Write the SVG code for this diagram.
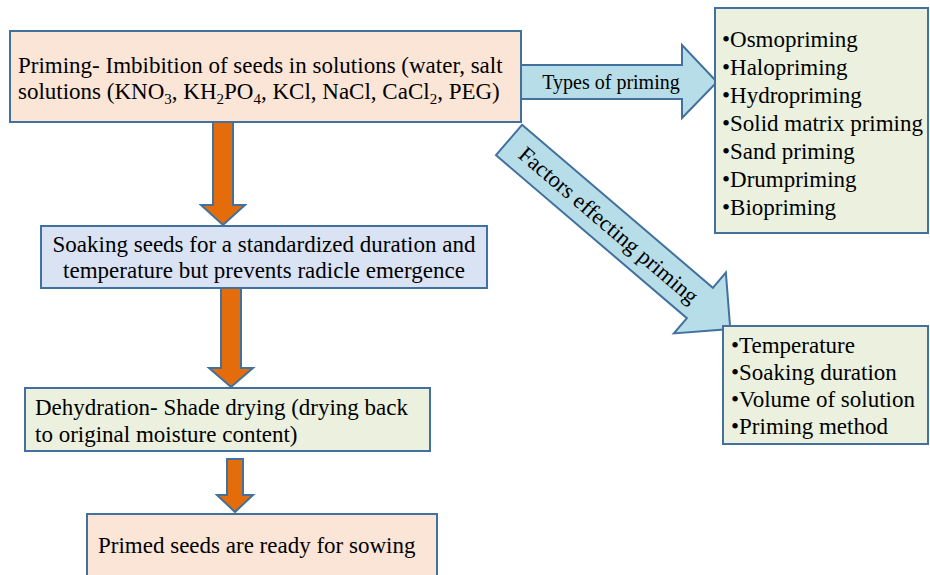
<svg xmlns="http://www.w3.org/2000/svg" width="930" height="575" viewBox="0 0 930 575">
<style>
  .box { stroke: #41719c; stroke-width: 2; }
  .peach { fill: #fbe5d6; }
  .blue { fill: #dae3f3; }
  .green { fill: #ebf1de; }
  .down { fill: #e46c0a; stroke: #41719c; stroke-width: 2; }
  .side { fill: #b7dde8; stroke: #41719c; stroke-width: 2; }
</style>
<rect width="930" height="575" fill="#ffffff"/>
<g font-family="'Liberation Serif', 'Times New Roman', serif" fill="#000">
<g id="connectors">
  <polygon class="down" points="213,121 233,121 233,205 245,205 223,225 201,205 213,205"/>
  <polygon class="down" points="221,288 241,288 241,368 253,368 231,387 209,368 221,368"/>
  <polygon class="down" points="227,459 243,459 243,495 253,495 235,512 217,495 227,495"/>
  <g id="types-arrow">
    <polygon class="side" points="521,65 682,65 682,45 717,82 682,118 682,99 521,99"/>
    <text x="611" y="89" font-size="20" text-anchor="middle">Types of priming</text>
  </g>
  <g id="factors-arrow" transform="translate(509,140) rotate(40.5)">
    <polygon class="side" points="0,-20 251,-20 251,-40 291,0 251,40 251,20 0,20"/>
    <text x="131" y="7.5" font-size="22.5" text-anchor="middle">Factors effecting priming</text>
  </g>
</g>
<g id="node-priming" font-size="23">
  <rect class="box peach" x="10" y="31" width="511" height="91"/>
  <text x="18" y="73">Priming- Imbibition of seeds in solutions (water, salt</text>
  <text x="18" y="99">solutions (KNO<tspan font-size="15" dy="5">3</tspan><tspan dy="-5">, KH</tspan><tspan font-size="15" dy="5">2</tspan><tspan dy="-5">PO</tspan><tspan font-size="15" dy="5">4</tspan><tspan dy="-5">, KCl, NaCl, CaCl</tspan><tspan font-size="15" dy="5">2</tspan><tspan dy="-5">, PEG)</tspan></text>
</g>
<g id="node-soaking" font-size="23">
  <rect class="box blue" x="41" y="226" width="446" height="62"/>
  <text x="264" y="252" text-anchor="middle">Soaking seeds for a standardized duration and</text>
  <text x="264" y="278" text-anchor="middle">temperature but prevents radicle emergence</text>
</g>
<g id="node-dehydration" font-size="23">
  <rect class="box green" x="25" y="388" width="405" height="63"/>
  <text x="35" y="415">Dehydration- Shade drying (drying back</text>
  <text x="35" y="442">to original moisture content)</text>
</g>
<g id="node-primed" font-size="23">
  <rect class="box peach" x="87" y="514" width="350" height="75"/>
  <text x="98" y="553">Primed seeds are ready for sowing</text>
</g>
<g id="node-types" font-size="23">
  <rect class="box green" x="715" y="8" width="213" height="225"/>
  <text x="722" y="47">•Osmopriming</text>
  <text x="722" y="75">•Halopriming</text>
  <text x="722" y="103">•Hydropriming</text>
  <text x="722" y="131">•Solid matrix priming</text>
  <text x="722" y="159">•Sand priming</text>
  <text x="722" y="187">•Drumpriming</text>
  <text x="722" y="215">•Biopriming</text>
</g>
<g id="node-factors" font-size="23">
  <rect class="box green" x="723" y="326" width="205" height="118"/>
  <text x="731" y="353">•Temperature</text>
  <text x="731" y="380">•Soaking duration</text>
  <text x="731" y="407">•Volume of solution</text>
  <text x="731" y="434">•Priming method</text>
</g>
</g>
</svg>
